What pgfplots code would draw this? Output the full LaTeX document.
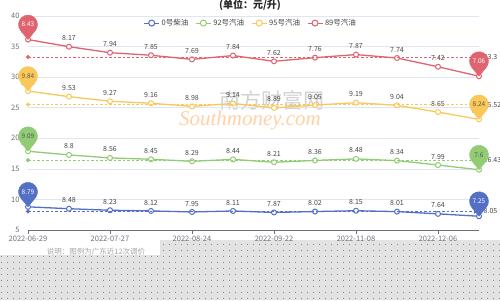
\documentclass[border=0pt]{standalone}
\usepackage{pgfplots}
\pgfplotsset{compat=1.18}
\usepackage{fontspec}
\setmainfont{Noto Sans CJK SC}
\newfontfamily\wmfont{Liberation Serif}
\usetikzlibrary{arrows.meta,patterns.meta}

\definecolor{cBlue}{HTML}{5470C6}
\definecolor{cGreen}{HTML}{91CC75}
\definecolor{cYellow}{HTML}{FAC858}
\definecolor{cRed}{HTML}{E06370}
\definecolor{gridc}{HTML}{E0E6F1}
\definecolor{axc}{HTML}{6E7079}
\definecolor{lblc}{HTML}{464646}

\pgfdeclareplotmark{pin}{%
  \pgfpathmoveto{\pgfqpoint{0pt}{0pt}}%
  \pgfpathlineto{\pgfqpoint{-7.35pt}{8.98pt}}%
  \pgfpatharc{219.3}{-39.3}{9.5pt}%
  \pgfpathclose
  \pgfusepathqfillstroke}

\tikzdeclarepattern{
  name=ckdots,
  type=uncolored,
  bounding box={(0pt,0pt) and (6pt,6pt)},
  tile size={(6pt,6pt)},
  code={\fill (3pt,3pt) circle (0.6pt);}
}

\pgfplotsset{
  ser/.style={color=#1, line width=1.3pt, mark=*, mark size=2.5pt,
    mark options={fill=white, draw=#1, line width=1pt, solid},
    nodes near coords, point meta=explicit symbolic,
    nodes near coords style={font=\fontsize{7}{8}\selectfont, text=lblc, anchor=south, yshift=2pt}},
  avg/.style={color=#1, line width=0.8pt, dash pattern=on 2.5pt off 2pt,
    mark=*, mark indices={1}, mark size=1.6pt, mark options={solid, fill=#1},
    -{Triangle[length=5pt,width=4.5pt]}},
  pinp/.style 2 args={only marks, mark=pin, mark options={fill=#1, draw=#1, solid},
    nodes near coords, point meta=explicit symbolic,
    nodes near coords style={anchor=center, yshift=15pt, text=#2, font=\fontsize{6.5}{7}\selectfont}},
}

\begin{document}
\begin{tikzpicture}
\useasboundingbox (0pt,0pt) rectangle (500pt,300pt);
\clip (0pt,0pt) rectangle (500pt,300pt);
\fill[white] (0pt,0pt) rectangle (500pt,300pt);
% grey dotted lower band of the picture
\fill[gray!22] (0pt,0pt) -- (0pt,45pt) -- (160pt,45pt) -- (160pt,60pt) -- (500pt,60pt) -- (500pt,0pt) -- cycle;
\fill[pattern=ckdots, pattern color=black!55] (0pt,0pt) -- (0pt,45pt) -- (160pt,45pt) -- (160pt,60pt) -- (500pt,60pt) -- (500pt,0pt) -- cycle;
% watermark
\node[text=gray!35, font=\fontsize{21}{22}\selectfont] at (272pt,200pt) {南方财富网};
\node[text=orange!35, font=\wmfont\itshape\fontsize{21}{22}\selectfont] at (250pt,180pt) {Southmoney.com};

\begin{axis}[
  at={(28pt,70pt)}, anchor=south west,
  scale only axis, width=451pt, height=214pt,
  xmin=0, xmax=11, ymin=5, ymax=40,
  stack plots=y,
  clip=false,
  axis x line=bottom, axis y line=left,
  axis line style={-},
  y axis line style={draw=none},
  x axis line style={draw=axc, line width=0.6pt},
  ytick={5,10,...,40},
  ymajorgrids, major grid style={draw=gridc, line width=0.6pt},
  ytick style={draw=none},
  xtick={0,2,4,6,8,10},
  xticklabels={2022-06-29,2022-07-27,2022-08-24,2022-09-22,2022-11-08,2022-12-06},
  xtick style={draw=axc, line width=0.6pt},
  tick align=outside, major tick length=4pt,
  /pgf/number format/assume math mode=true,
  ticklabel style={font=\fontsize{7.5}{8}\selectfont, text=axc},
  yticklabel style={xshift=-1pt},
  xticklabel style={yshift=1pt},
  legend columns=4,
  legend style={at={(0.494,0.967)}, anchor=center, draw=none, fill=none,
    font=\fontsize{7.5}{8}\selectfont, text=lblc,
    /tikz/every even column/.append style={column sep=5pt},
    inner sep=1pt},
  legend image code/.code={
    \draw[#1, mark=none, line width=1pt] (0pt,0pt) -- (15pt,0pt);
    \draw[#1, mark=none, line width=1pt, fill=white] (7.5pt,0pt) circle (3pt);
  },
]
\addplot[ser=cBlue] coordinates {
 (0,8.79)[8.79] (1,8.48)[8.48] (2,8.23)[8.23] (3,8.12)[8.12] (4,7.95)[7.95] (5,8.11)[8.11]
 (6,7.87)[7.87] (7,8.02)[8.02] (8,8.15)[8.15] (9,8.01)[8.01] (10,7.64)[7.64] (11,7.25)[7.25]};
\addlegendentry{0号柴油}
\addplot[ser=cGreen] coordinates {
 (0,9.09)[9.09] (1,8.8)[8.8] (2,8.56)[8.56] (3,8.45)[8.45] (4,8.29)[8.29] (5,8.44)[8.44]
 (6,8.21)[8.21] (7,8.36)[8.36] (8,8.48)[8.48] (9,8.34)[8.34] (10,7.99)[7.99] (11,7.6)[7.6]};
\addlegendentry{92号汽油}
\addplot[ser=cYellow] coordinates {
 (0,9.84)[9.84] (1,9.53)[9.53] (2,9.27)[9.27] (3,9.16)[9.16] (4,8.98)[8.98] (5,9.14)[9.14]
 (6,8.89)[8.89] (7,9.05)[9.05] (8,9.19)[9.19] (9,9.04)[9.04] (10,8.65)[8.65] (11,8.24)[8.24]};
\addlegendentry{95号汽油}
\addplot[ser=cRed] coordinates {
 (0,8.43)[8.43] (1,8.17)[8.17] (2,7.94)[7.94] (3,7.85)[7.85] (4,7.69)[7.69] (5,7.84)[7.84]
 (6,7.62)[7.62] (7,7.76)[7.76] (8,7.87)[7.87] (9,7.74)[7.74] (10,7.42)[7.42] (11,7.06)[7.06]};
\addlegendentry{89号汽油}
\end{axis}

\begin{axis}[
  at={(28pt,70pt)}, anchor=south west,
  scale only axis, width=451pt, height=214pt,
  xmin=0, xmax=11, ymin=5, ymax=40,
  hide axis, clip=false,
]
% average mark lines (stacked positions)
\addplot[avg=cBlue] coordinates {(0,8.05) (11,8.05)}
  node[pos=1, anchor=west, xshift=1pt, font=\fontsize{7}{8}\selectfont, text=lblc] {8.05};
\addplot[avg=cGreen] coordinates {(0,16.43) (11,16.43)}
  node[pos=1, anchor=west, xshift=1pt, font=\fontsize{7}{8}\selectfont, text=lblc] {16.43};
\addplot[avg=cYellow] coordinates {(0,25.52) (11,25.52)}
  node[pos=1, anchor=west, xshift=1pt, font=\fontsize{7}{8}\selectfont, text=lblc] {25.52};
\addplot[avg=cRed] coordinates {(0,33.30) (11,33.30)}
  node[pos=1, anchor=west, xshift=1pt, font=\fontsize{7}{8}\selectfont, text=lblc] {33.3};
% max / min pins (stacked positions)
\addplot[pinp={cBlue}{white}] coordinates {(0,8.79)[8.79] (11,7.25)[7.25]};
\addplot[pinp={cGreen}{black!65}] coordinates {(0,17.88)[9.09] (11,14.85)[7.6]};
\addplot[pinp={cYellow}{black!65}] coordinates {(0,27.72)[9.84] (11,23.09)[8.24]};
\addplot[pinp={cRed}{white}] coordinates {(0,36.15)[8.43] (11,30.15)[7.06]};
\end{axis}

\node[font=\bfseries\fontsize{10}{11}\selectfont, text=black!85] at (250pt,295pt) {(单位：元/升)};
\node[font=\fontsize{7.5}{8}\selectfont, text=gray!70] at (96pt,48pt) {说明：图例为广东近12次调价};
\end{tikzpicture}
\end{document}
